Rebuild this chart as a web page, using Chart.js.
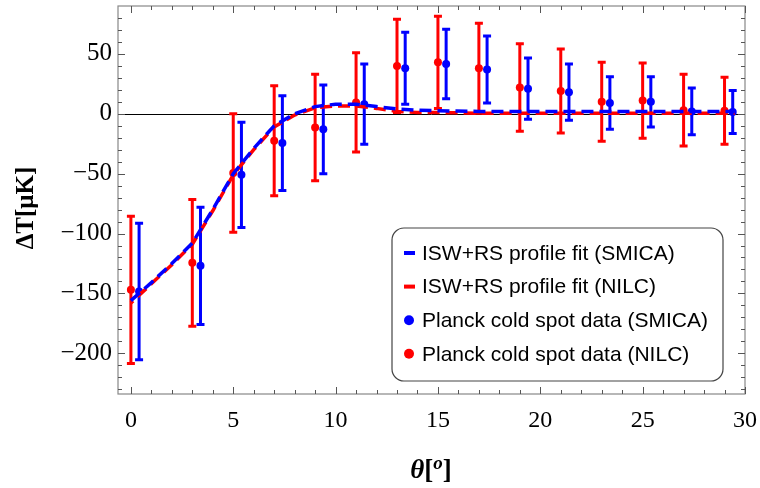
<!DOCTYPE html>
<html>
<head>
<meta charset="utf-8">
<script src="https://cdn.jsdelivr.net/npm/chart.js@4"></script>
<style>
  html, body { margin: 0; padding: 0; background: #fff; }
  #wrap { width: 760px; height: 488px; }
</style>
</head>
<body>
<div id="wrap"><canvas id="coldSpotChart" width="760" height="488"></canvas></div>
<script>
// angular distance (degrees)
const thetaNILC = [0, 3, 5, 7, 9, 11, 13, 15, 17, 19, 21, 23, 25, 27, 29];
const thetaSMICA = [0.4, 3.4, 5.4, 7.4, 9.4, 11.4, 13.4, 15.4, 17.4, 19.4, 21.4, 23.4, 25.4, 27.4, 29.4];

// Planck cold spot profile (muK) and errors
const dtNILC = [-147, -124.5, -49.5, -22.5, -11.5, 9.5, 40, 43, 38, 22, 19, 10, 11, 3, 2.5];
const errNILC = [61.5, 53, 49.5, 46, 44.5, 41.5, 39, 38.5, 37.5, 36.5, 35, 33, 31.5, 30, 28];
const dtSMICA = [-148.5, -127, -51, -24.5, -13, 8, 38, 41.5, 37, 21, 18, 9, 10, 2, 1.5];
const errSMICA = [57, 49, 44, 39.5, 37, 33.5, 30, 29, 28, 25.5, 23.5, 22, 21, 19.5, 18];

// ISW+RS profile fits
const fitTheta = [0, 1, 2, 3, 4, 5, 6, 7, 8, 9, 10, 11, 12, 13, 14, 15, 17, 19, 21, 23, 25, 27, 29.5];
const fitSMICA = [-156, -141, -125, -108, -80, -50, -29, -10, 0, 6, 8, 8, 6, 4, 3, 2.5, 2, 2, 2, 2, 2, 2, 2];
const fitNILC = [-158, -142, -126, -109, -81, -51, -30, -11, -1, 5, 6.5, 6.5, 4.5, 2, 1, 1, 0.5, 0.5, 0.5, 0.5, 0.5, 0.5, 0.5];

const xTicks = [0, 5, 10, 15, 20, 25, 30];
const yTicks = [-200, -150, -100, -50, 0, 50];

const BLUE = '#0000ff';
const RED = '#ff0000';
const SERIF = '"Liberation Serif", "Times New Roman", serif';

function pts(xs, ys) {
    return xs.map((x, i) => ({ x: x, y: ys[i] }));
}

const plotDecor = {
    id: 'plotDecor',
    beforeDatasetsDraw(chart) {
        const ctx = chart.ctx;
        const area = chart.chartArea;
        const ys = chart.scales.y;
        ctx.save();
        ctx.beginPath();
        ctx.rect(area.left, area.top, area.right - area.left, area.bottom - area.top);
        ctx.clip();
        // zero line
        const y0 = Math.round(ys.getPixelForValue(0)) + 0.5;
        ctx.strokeStyle = '#000';
        ctx.lineWidth = 1;
        ctx.beginPath();
        ctx.moveTo(area.left, y0);
        ctx.lineTo(area.right, y0);
        ctx.stroke();
        // error bars
        chart.data.datasets.forEach((ds, i) => {
            if (!ds.errors) return;
            const meta = chart.getDatasetMeta(i);
            ctx.strokeStyle = ds.backgroundColor;
            ctx.lineWidth = 3;
            meta.data.forEach((pt, j) => {
                const v = ds.data[j].y, e = ds.errors[j];
                const yt = ys.getPixelForValue(v + e);
                const yb = ys.getPixelForValue(v - e);
                ctx.beginPath();
                ctx.moveTo(pt.x, yt);
                ctx.lineTo(pt.x, yb);
                ctx.moveTo(pt.x - 4, yt);
                ctx.lineTo(pt.x + 4, yt);
                ctx.moveTo(pt.x - 4, yb);
                ctx.lineTo(pt.x + 4, yb);
                ctx.stroke();
            });
        });
        ctx.restore();
    },
    afterDraw(chart) {
        const ctx = chart.ctx;
        const area = chart.chartArea;
        const xs = chart.scales.x, ys = chart.scales.y;
        ctx.save();
        // frame
        ctx.strokeStyle = '#888';
        ctx.lineWidth = 1.2;
        ctx.strokeRect(area.left, area.top, area.right - area.left, area.bottom - area.top);
        // inward ticks on all four sides
        ctx.strokeStyle = '#555';
        ctx.lineWidth = 1;
        ctx.beginPath();
        for (let v = 0; v <= 30; v++) {
            const len = v % 5 === 0 ? 7 : 4;
            const px = Math.round(xs.getPixelForValue(v)) + 0.5;
            ctx.moveTo(px, area.bottom); ctx.lineTo(px, area.bottom - len);
            ctx.moveTo(px, area.top); ctx.lineTo(px, area.top + len);
        }
        for (let v = -230; v <= 80; v += 10) {
            const len = v % 50 === 0 ? 7 : 4;
            const py = Math.round(ys.getPixelForValue(v)) + 0.5;
            ctx.moveTo(area.left, py); ctx.lineTo(area.left + len, py);
            ctx.moveTo(area.right, py); ctx.lineTo(area.right - len, py);
        }
        ctx.stroke();

        // legend box
        const lx = 392, ly = 228, lw = 331, lh = 153;
        ctx.fillStyle = '#fff';
        ctx.strokeStyle = '#444';
        ctx.lineWidth = 1.2;
        ctx.beginPath();
        ctx.roundRect(lx, ly, lw, lh, 12);
        ctx.fill();
        ctx.stroke();
        ctx.font = '21px "Liberation Sans", Arial, sans-serif';
        ctx.textBaseline = 'middle';
        ctx.textAlign = 'left';
        chart.data.datasets.forEach((ds, i) => {
            const cy = ly + 25 + i * 33.6;
            if (ds.showLine) {
                ctx.fillStyle = ds.borderColor;
                ctx.fillRect(lx + 12, cy - 2, 11, 4);
            } else {
                ctx.fillStyle = ds.backgroundColor;
                ctx.beginPath();
                ctx.arc(lx + 17, cy, 5, 0, Math.PI * 2);
                ctx.fill();
            }
            ctx.fillStyle = '#000';
            ctx.fillText(ds.label, lx + 30, cy + 1);
        });

        // y axis title
        ctx.save();
        ctx.translate(27, 208);
        ctx.rotate(-Math.PI / 2);
        ctx.font = 'bold 25px ' + SERIF;
        ctx.textAlign = 'center';
        ctx.textBaseline = 'middle';
        ctx.fillStyle = '#000';
        ctx.fillText('ΔT[μK]', 0, 0);
        ctx.restore();

        // x axis title: theta[ ^o ]
        const parts = [
            { t: 'θ', f: 'bold italic 27px ' + SERIF, dy: 0 },
            { t: '[', f: 'bold 27px ' + SERIF, dy: 0 },
            { t: 'o', f: 'bold italic 19px ' + SERIF, dy: -9 },
            { t: ']', f: 'bold 27px ' + SERIF, dy: 0 }
        ];
        let total = 0;
        parts.forEach(p => { ctx.font = p.f; p.w = ctx.measureText(p.t).width; total += p.w; });
        let cx = 431 - total / 2;
        ctx.textAlign = 'left';
        ctx.textBaseline = 'alphabetic';
        ctx.fillStyle = '#000';
        parts.forEach(p => {
            ctx.font = p.f;
            ctx.fillText(p.t, cx, 478 + p.dy);
            cx += p.w;
        });
        ctx.restore();
    }
};

const ctx = document.getElementById('coldSpotChart').getContext('2d');
new Chart(ctx, {
    type: 'scatter',
    data: {
        datasets: [
            {
                label: 'ISW+RS profile fit (SMICA)',
                data: pts(fitTheta, fitSMICA),
                showLine: true,
                borderColor: BLUE,
                backgroundColor: BLUE,
                borderWidth: 3.5,
                borderDash: [12, 6],
                pointRadius: 0,
                tension: 0
            },
            {
                label: 'ISW+RS profile fit (NILC)',
                data: pts(fitTheta, fitNILC),
                showLine: true,
                borderColor: RED,
                backgroundColor: RED,
                borderWidth: 3.5,
                borderDash: [12, 6],
                borderDashOffset: 9,
                pointRadius: 0,
                tension: 0
            },
            {
                label: 'Planck cold spot data (SMICA)',
                data: pts(thetaSMICA, dtSMICA),
                errors: errSMICA,
                showLine: false,
                backgroundColor: BLUE,
                borderColor: BLUE,
                pointRadius: 4,
                pointBorderWidth: 0
            },
            {
                label: 'Planck cold spot data (NILC)',
                data: pts(thetaNILC, dtNILC),
                errors: errNILC,
                showLine: false,
                backgroundColor: RED,
                borderColor: RED,
                pointRadius: 4,
                pointBorderWidth: 0
            }
        ]
    },
    options: {
        responsive: false,
        animation: false,
        devicePixelRatio: 1,
        layout: { padding: { left: 0, right: 15, top: 6, bottom: 0 } },
        plugins: {
            legend: { display: false },
            tooltip: { enabled: false }
        },
        scales: {
            x: {
                type: 'linear',
                min: -0.63,
                max: 30,
                grid: { display: false, drawTicks: false },
                border: { display: false },
                afterBuildTicks: s => { s.ticks = xTicks.map(v => ({ value: v })); },
                afterFit: s => {
                    s.height = 94;
                    s.paddingLeft = 0;
                    s.paddingRight = 0;
                },
                ticks: {
                    padding: 12,
                    color: '#000',
                    maxRotation: 0,
                    font: { family: SERIF, size: 24 }
                }
            },
            y: {
                type: 'linear',
                min: -234,
                max: 90,
                grid: { display: false, drawTicks: false },
                border: { display: false },
                afterBuildTicks: s => { s.ticks = yTicks.map(v => ({ value: v })); },
                afterFit: s => {
                    s.width = 118;
                    s.paddingTop = 0;
                    s.paddingBottom = 0;
                },
                ticks: {
                    padding: 6,
                    color: '#000',
                    font: { family: SERIF, size: 25 },
                    callback: v => (v < 0 ? '\u2212' + Math.abs(v) : String(v))
                }
            }
        }
    },
    plugins: [plotDecor]
});
</script>
</body>
</html>
